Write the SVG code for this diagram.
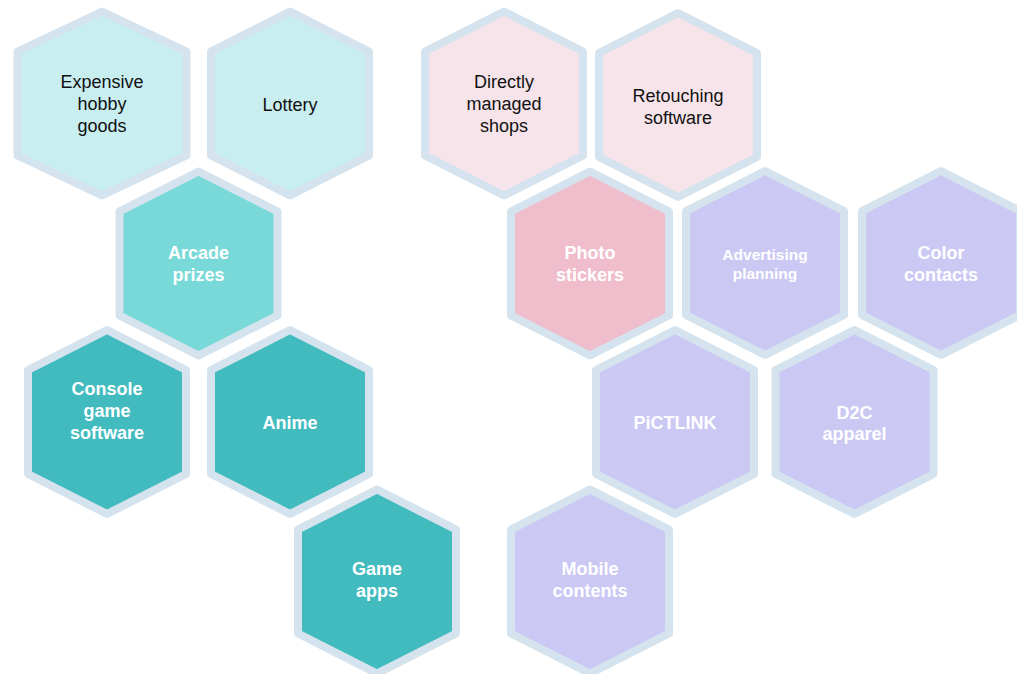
<svg xmlns="http://www.w3.org/2000/svg" xmlns:xlink="http://www.w3.org/1999/xlink" width="1017" height="674" viewBox="0 0 1017 674">
  <style>
    .hx { stroke: #d4e3ed; stroke-width: 8; stroke-linejoin: round; }
    .c1 { fill: #c8eef0; }
    .c2 { fill: #79d9d8; }
    .c3 { fill: #42bbbf; }
    .p1 { fill: #f7e4ea; }
    .p2 { fill: #f0bdcd; }
    .v1 { fill: #cbc9f4; }
    text { font-family: "Liberation Sans", Arial, sans-serif; text-anchor: middle; }
    .dk { fill: #111111; font-size: 18px; }
    .lt { fill: #ffffff; font-size: 18px; font-weight: bold; }
    .sm { fill: #ffffff; font-size: 15.5px; font-weight: bold; }
  </style>
  <defs>
    <polygon id="hex" points="0,-92 79,-52 79,52 0,92 -79,52 -79,-52"/>
    <polygon id="hexWide" points="0,-92 84.5,-52 84.5,52 0,92 -84.5,52 -84.5,-52"/>
  </defs>
  <rect width="1017" height="674" fill="#ffffff"/>

  <!-- teal cluster -->
  <g id="expensive-hobby-goods">
    <use xlink:href="#hexWide" href="#hexWide" x="102" y="103.5" class="hx c1"/>
    <text class="dk" x="102" y="88">Expensive</text>
    <text class="dk" x="102" y="110">hobby</text>
    <text class="dk" x="102" y="132">goods</text>
  </g>
  <g id="lottery">
    <use xlink:href="#hex" href="#hex" x="290" y="103.5" class="hx c1"/>
    <text class="dk" x="290" y="111">Lottery</text>
  </g>
  <g id="arcade-prizes">
    <use xlink:href="#hex" href="#hex" x="198.5" y="263.5" class="hx c2"/>
    <text class="lt" x="198.5" y="259">Arcade</text>
    <text class="lt" x="198.5" y="281">prizes</text>
  </g>
  <g id="console-game-software">
    <use xlink:href="#hex" href="#hex" x="107" y="422" class="hx c3"/>
    <text class="lt" x="107" y="395">Console</text>
    <text class="lt" x="107" y="417">game</text>
    <text class="lt" x="107" y="439">software</text>
  </g>
  <g id="anime">
    <use xlink:href="#hex" href="#hex" x="290" y="422" class="hx c3"/>
    <text class="lt" x="290" y="429">Anime</text>
  </g>
  <g id="game-apps">
    <use xlink:href="#hex" href="#hex" x="377" y="581.5" class="hx c3"/>
    <text class="lt" x="377" y="575">Game</text>
    <text class="lt" x="377" y="597">apps</text>
  </g>

  <!-- pink and lavender cluster -->
  <g id="directly-managed-shops">
    <use xlink:href="#hex" href="#hex" x="504" y="103.5" class="hx p1"/>
    <text class="dk" x="504" y="88">Directly</text>
    <text class="dk" x="504" y="110">managed</text>
    <text class="dk" x="504" y="132">shops</text>
  </g>
  <g id="retouching-software">
    <use xlink:href="#hex" href="#hex" x="678" y="105" class="hx p1"/>
    <text class="dk" x="678" y="101.5">Retouching</text>
    <text class="dk" x="678" y="123.5">software</text>
  </g>
  <g id="photo-stickers">
    <use xlink:href="#hex" href="#hex" x="590" y="263.5" class="hx p2"/>
    <text class="lt" x="590" y="259">Photo</text>
    <text class="lt" x="590" y="281">stickers</text>
  </g>
  <g id="advertising-planning">
    <use xlink:href="#hex" href="#hex" x="765" y="263" class="hx v1"/>
    <text class="sm" x="765" y="260">Advertising</text>
    <text class="sm" x="765" y="279">planning</text>
  </g>
  <g id="color-contacts">
    <use xlink:href="#hex" href="#hex" x="941" y="263" class="hx v1"/>
    <text class="lt" x="941" y="259">Color</text>
    <text class="lt" x="941" y="281">contacts</text>
  </g>
  <g id="pictlink">
    <use xlink:href="#hex" href="#hex" x="675" y="422" class="hx v1"/>
    <text class="lt" x="675" y="429">PiCTLINK</text>
  </g>
  <g id="d2c-apparel">
    <use xlink:href="#hex" href="#hex" x="854.5" y="422" class="hx v1"/>
    <text class="lt" x="854.5" y="418.5">D2C</text>
    <text class="lt" x="854.5" y="440">apparel</text>
  </g>
  <g id="mobile-contents">
    <use xlink:href="#hex" href="#hex" x="590" y="581.5" class="hx v1"/>
    <text class="lt" x="590" y="575">Mobile</text>
    <text class="lt" x="590" y="597">contents</text>
  </g>

  <g id="connectors"/>
</svg>
